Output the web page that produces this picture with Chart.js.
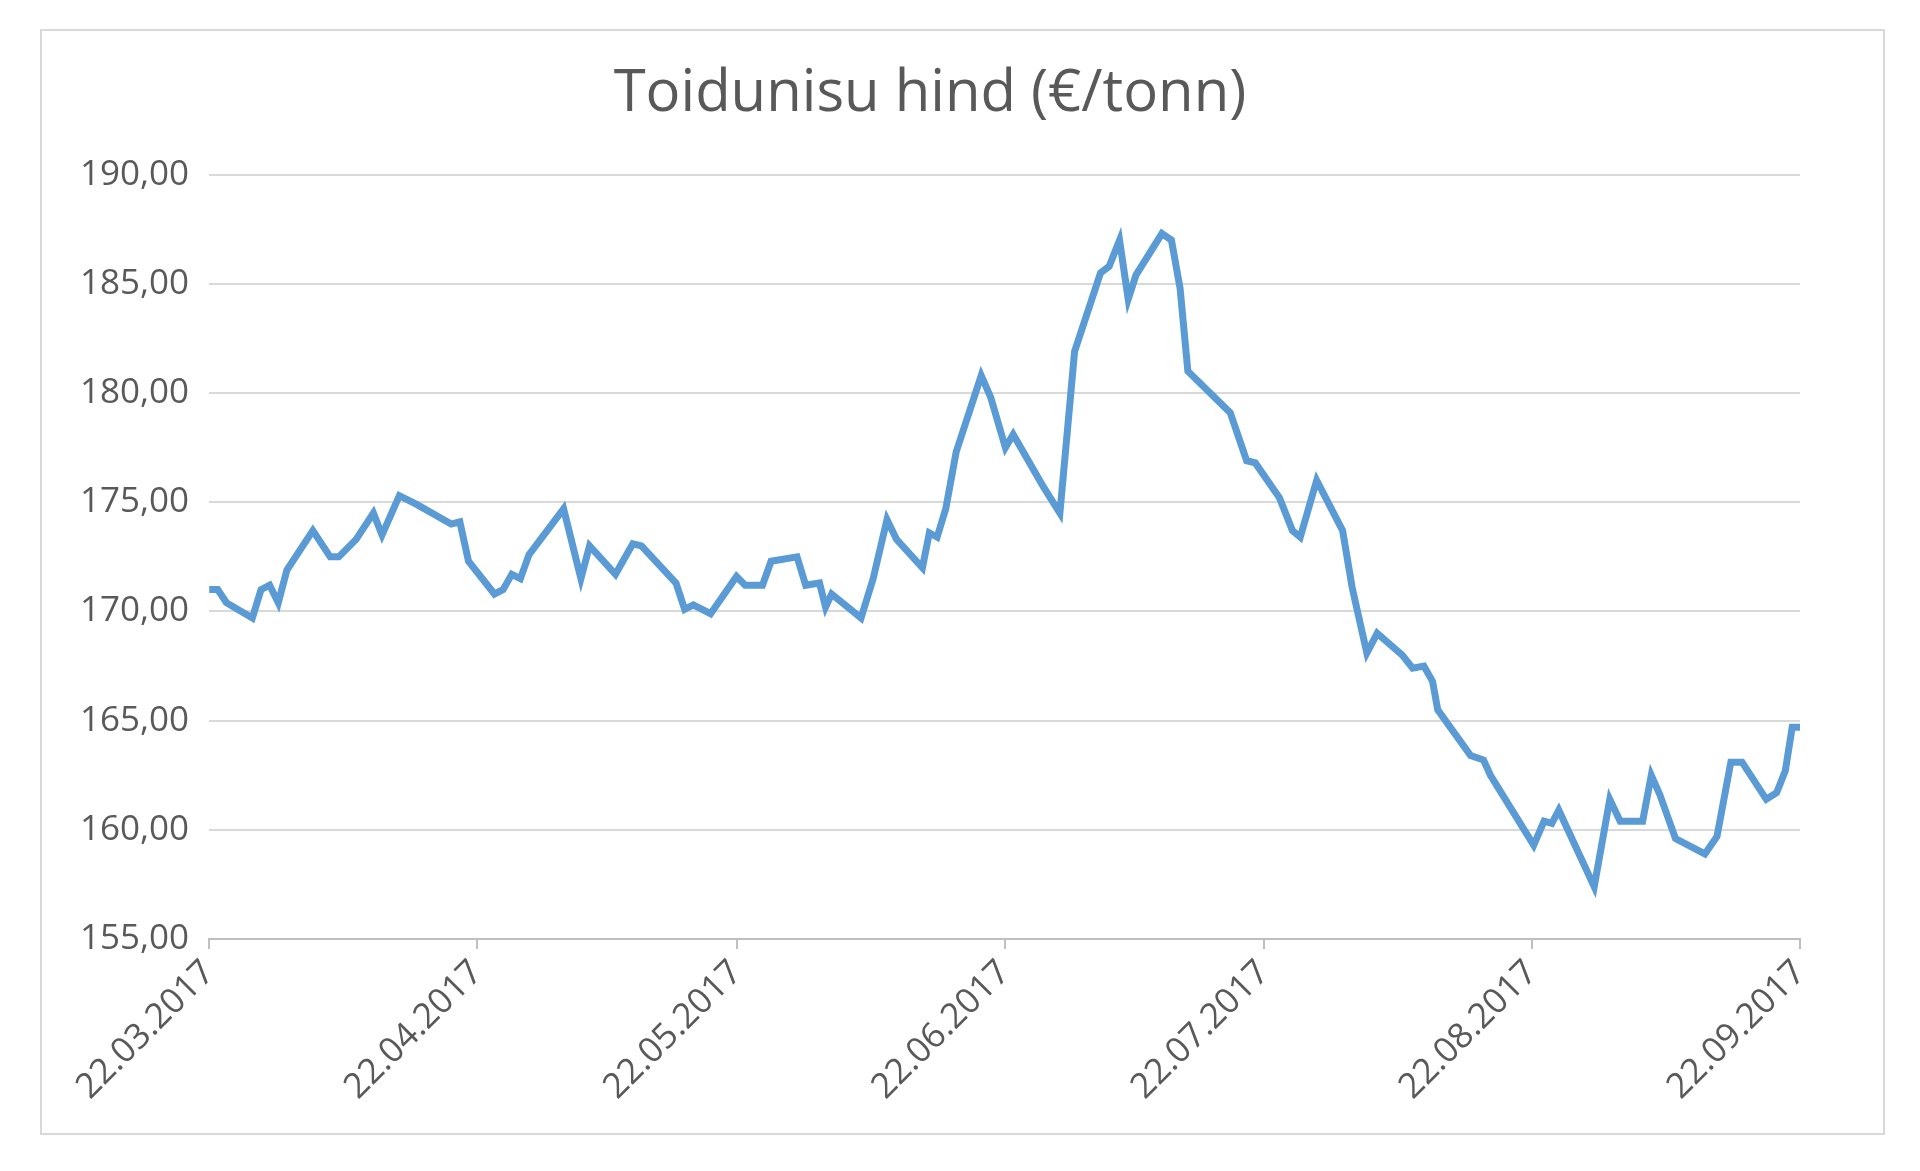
<!DOCTYPE html>
<html>
<head>
<meta charset="utf-8">
<script src="https://cdn.jsdelivr.net/npm/chart.js@4"></script>
<style>
  body { margin: 0; background: #fff; }
  #frame { position: absolute; left: 40px; top: 29px; width: 1841px; height: 1102px; border: 2px solid #d9d9d9; }
  #wrap { position: absolute; left: 0; top: 0; width: 1920px; height: 1171px; }
</style>
</head>
<body>
<div id="frame"></div>
<div id="wrap"><canvas id="myChart" width="1920" height="1171"></canvas></div>
<script>
// day offset from 22.03.2017
const days = [0, 1, 2, 5, 6, 7, 8, 9, 12, 14, 15, 17, 19, 20, 22, 24, 28, 29, 30, 33, 34, 35, 36, 37, 41, 43, 44, 47, 49, 50, 54, 55, 56, 58, 61, 62, 64, 65, 68, 69, 70.6, 71.3, 72, 75.4, 76.8, 78.4, 79.5, 82.5, 83.3, 84.2, 85.2, 86.4, 89.3, 90.4, 92.1, 93, 96.5, 98.4, 100.1, 103.1, 104.1, 105.3, 106.3, 107.2, 110.2, 111.3, 112.3, 113.2, 118.1, 120, 121, 123.8, 125.3, 126.2, 128.1, 131.1, 132.2, 133.9, 135.1, 138, 139.2, 140.5, 141.5, 142.1, 145.9, 147.4, 148.2, 153.2, 154.4, 155.3, 156.1, 160.2, 162, 163.2, 165.8, 166.8, 167.8, 169.6, 173, 174.4, 176, 177.3, 180.1, 181.3, 182.3, 183.1, 184];
const prices = [171.0, 171.0, 170.4, 169.7, 171.0, 171.2, 170.4, 171.9, 173.7, 172.5, 172.5, 173.3, 174.5, 173.5, 175.3, 174.9, 174.0, 174.1, 172.3, 170.8, 171.0, 171.7, 171.5, 172.6, 174.7, 171.5, 173.0, 171.7, 173.1, 173.0, 171.3, 170.1, 170.3, 169.9, 171.6, 171.2, 171.2, 172.3, 172.5, 171.2, 171.3, 170.2, 170.8, 169.7, 171.5, 174.2, 173.3, 172.0, 173.6, 173.4, 174.7, 177.3, 180.8, 179.8, 177.5, 178.1, 175.7, 174.5, 181.9, 185.5, 185.8, 187.0, 184.3, 185.4, 187.3, 187.0, 184.8, 181.0, 179.1, 176.9, 176.8, 175.2, 173.7, 173.4, 176.0, 173.7, 171.1, 168.1, 169.0, 168.0, 167.4, 167.5, 166.8, 165.5, 163.4, 163.2, 162.5, 159.3, 160.4, 160.3, 160.9, 157.4, 161.4, 160.4, 160.4, 162.5, 161.6, 159.6, 158.9, 159.7, 163.1, 163.1, 161.4, 161.7, 162.7, 164.7, 164.7];
const tickDays = [0, 31, 61, 92, 122, 153, 184];
const tickLabels = ['22.03.2017', '22.04.2017', '22.05.2017', '22.06.2017', '22.07.2017', '22.08.2017', '22.09.2017'];

const ctx = document.getElementById('myChart');
new Chart(ctx, {
    type: 'line',
    data: {
        datasets: [{
            data: days.map((d, i) => ({ x: d, y: prices[i] })),
            borderColor: '#5b9bd5',
            borderWidth: 7,
            pointRadius: 0,
            tension: 0
        }]
    },
    options: {
        responsive: false,
        animation: false,
        devicePixelRatio: 1,
        layout: { padding: { left: 60, right: 120, top: 50, bottom: 60 } },
        plugins: {
            legend: { display: false },
            tooltip: { enabled: false },
            title: {
                display: true,
                text: 'Toidunisu hind (€/tonn)',
                color: '#595959',
                font: { family: "'Open Sans', sans-serif", size: 58, weight: 'normal' },
                padding: { top: 10, bottom: 45 }
            }
        },
        scales: {
            x: {
                type: 'linear',
                min: 0,
                max: 184,
                afterBuildTicks: axis => { axis.ticks = tickDays.map(v => ({ value: v })); },
                ticks: {
                    callback: v => tickLabels[tickDays.indexOf(v)],
                    color: '#595959',
                    font: { family: "'Open Sans', sans-serif", size: 35 },
                    maxRotation: 45,
                    minRotation: 45,
                    autoSkip: false
                },
                grid: { display: true, drawOnChartArea: false, drawTicks: true, tickLength: 10, color: '#bfbfbf', lineWidth: 2 },
                border: { color: '#bfbfbf', width: 2 }
            },
            y: {
                min: 155,
                max: 190,
                ticks: {
                    stepSize: 5,
                    callback: v => v.toFixed(2).replace('.', ','),
                    color: '#595959',
                    font: { family: "'Open Sans', sans-serif", size: 35 },
                    padding: 20
                },
                grid: { color: '#d9d9d9', lineWidth: 2, drawTicks: false },
                border: { display: false }
            }
        }
    }
});
</script>
</body>
</html>
